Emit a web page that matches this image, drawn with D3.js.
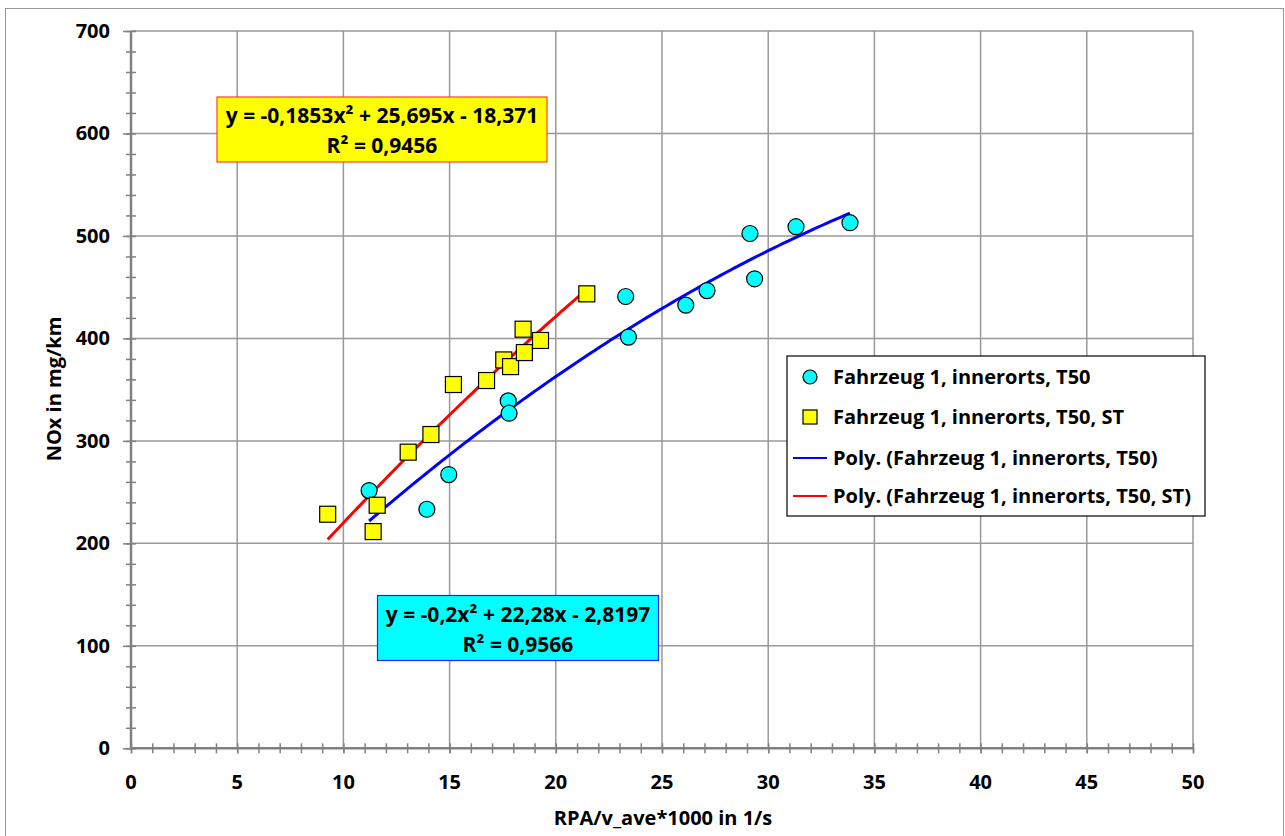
<!DOCTYPE html>
<html><head><meta charset="utf-8">
<script src="https://cdn.jsdelivr.net/npm/d3@7"></script>
<style>body{margin:0;background:#fff}svg{display:block}text{font-family:"Open Sans",Lato,sans-serif;font-weight:bold;fill:#000}</style>
</head><body><svg id="c" width="1285" height="836"></svg>
<script>
// Series 1: Fahrzeug 1, innerorts, T50 (circles)
const t50X = [11.21, 13.93, 14.96, 17.76, 17.80, 23.29, 23.42, 26.12, 27.12, 29.14, 29.36, 31.31, 33.85];
const t50Y = [251.5, 233.3, 267.1, 339.0, 327.0, 440.9, 401.3, 432.5, 446.7, 502.4, 458.2, 509.0, 512.9];
// Series 2: Fahrzeug 1, innerorts, T50, ST (squares)
const stX = [9.26, 11.40, 11.59, 13.05, 14.12, 15.18, 16.74, 17.55, 17.87, 18.46, 18.52, 19.28, 21.46];
const stY = [228.4, 211.5, 237.2, 289.0, 306.2, 355.0, 358.9, 379.0, 372.5, 409.0, 386.2, 398.0, 443.5];
// Trendline coefficients (as printed on the chart): y = a x^2 + b x + c
const t50Coef = [-0.2, 22.28, -2.8197];
const stCoef = [-0.1853, 25.695, -18.371];
const t50Label = ["y = -0,2x² + 22,28x - 2,8197", "R² = 0,9566"];
const stLabel = ["y = -0,1853x² + 25,695x - 18,371", "R² = 0,9456"];
const legendLabels = ["Fahrzeug 1, innerorts, T50", "Fahrzeug 1, innerorts, T50, ST", "Poly. (Fahrzeug 1, innerorts, T50)", "Poly. (Fahrzeug 1, innerorts, T50, ST)"];
const xTicks = [0,5,10,15,20,25,30,35,40,45,50];
const yTicks = [0,100,200,300,400,500,600,700];
const xTitle = "RPA/v_ave*1000 in 1/s";
const yTitle = "NOx in mg/km";

const svg = d3.select("#c");
const x = d3.scaleLinear().domain([0,50]).range([131,1193]);
const y = d3.scaleLinear().domain([0,700]).range([748.3,31]);
const grid = "#999", axisC = "#808080";
const FS = 20;

svg.append("rect").attr("x",5.5).attr("y",8.5).attr("width",1278).attr("height",840).attr("fill","#fff").attr("stroke","#999").attr("stroke-width",1);

// grid
svg.append("g").selectAll("line").data(xTicks.slice(1)).join("line")
  .attr("x1",d=>x(d)).attr("x2",d=>x(d)).attr("y1",y(700)).attr("y2",y(0)).attr("stroke",grid).attr("stroke-width",1.5);
svg.append("g").selectAll("line").data(yTicks.slice(1)).join("line")
  .attr("x1",x(0)).attr("x2",x(50)).attr("y1",d=>y(d)).attr("y2",d=>y(d)).attr("stroke",grid).attr("stroke-width",1.5);

// axes
const yAx = svg.append("g").attr("transform",`translate(${x(0)},0)`)
  .call(d3.axisLeft(y).tickValues(yTicks).tickSize(8).tickFormat(""));
const yMinor = svg.append("g").attr("transform",`translate(${x(0)+5},0)`)
  .call(d3.axisLeft(y).tickValues(d3.range(0,701,20)).tickSize(10).tickFormat(""));
const xAx = svg.append("g").attr("transform",`translate(0,${y(0)})`)
  .call(d3.axisBottom(x).tickValues(xTicks).tickSize(5).tickFormat(""));
const xMinor = svg.append("g").attr("transform",`translate(0,${y(0)-5})`)
  .call(d3.axisBottom(x).tickValues(d3.range(0,51,1)).tickSize(10).tickFormat(""));
[yAx,yMinor,xAx,xMinor].forEach(g=>{g.selectAll("line").attr("stroke",axisC).attr("stroke-width",1.5);g.select(".domain").remove();});
svg.append("line").attr("x1",x(0)).attr("x2",x(0)).attr("y1",y(700)).attr("y2",y(0)).attr("stroke",axisC).attr("stroke-width",2.5);
svg.append("line").attr("x1",x(0)).attr("x2",x(50)).attr("y1",y(0)).attr("y2",y(0)).attr("stroke",axisC).attr("stroke-width",2.5);

// tick labels
svg.append("g").selectAll("text").data(yTicks).join("text")
  .attr("x",110).attr("y",d=>y(d)).attr("dy","0.35em").attr("text-anchor","end").attr("font-size",FS).text(d=>d);
svg.append("g").selectAll("text").data(xTicks).join("text")
  .attr("x",d=>x(d)).attr("y",782).attr("dy","0.35em").attr("text-anchor","middle").attr("font-size",FS).text(d=>d);
svg.append("text").attr("x",663).attr("y",818).attr("dy","0.35em").attr("text-anchor","middle").attr("font-size",FS).text(xTitle);
svg.append("text").attr("transform","translate(54,389) rotate(-90)").attr("dy","0.35em").attr("text-anchor","middle").attr("font-size",FS).text(yTitle);

// trendlines
function poly(c){return v=>c[0]*v*v+c[1]*v+c[2];}
function curve(xs,c){const lo=d3.min(xs),hi=d3.max(xs),f=poly(c);return d3.range(0,101).map(i=>{const v=lo+(hi-lo)*i/100;return [v,f(v)];});}
const line = d3.line().x(d=>x(d[0])).y(d=>y(d[1]));
svg.append("path").attr("d",line(curve(t50X,t50Coef))).attr("fill","none").attr("stroke","#0000ff").attr("stroke-width",3);
svg.append("path").attr("d",line(curve(stX,stCoef))).attr("fill","none").attr("stroke","#ff0000").attr("stroke-width",3);

// markers
svg.append("g").selectAll("circle").data(t50X.map((v,i)=>[v,t50Y[i]])).join("circle")
  .attr("cx",d=>x(d[0])).attr("cy",d=>y(d[1])).attr("r",8).attr("fill","#00ffff").attr("stroke","#000").attr("stroke-width",1.2);
svg.append("g").selectAll("rect").data(stX.map((v,i)=>[v,stY[i]])).join("rect")
  .attr("x",d=>x(d[0])-8).attr("y",d=>y(d[1])-8).attr("width",16).attr("height",16).attr("fill","#ffff00").attr("stroke","#000").attr("stroke-width",1.2);

// equation boxes
function eqBox(x0,y0,w,h,fill,stroke,lines){
  svg.append("rect").attr("x",x0).attr("y",y0).attr("width",w).attr("height",h).attr("fill",fill).attr("stroke",stroke).attr("stroke-width",1.2);
  svg.append("g").selectAll("text").data(lines).join("text").attr("x",x0+w/2).attr("y",(d,i)=>y0+19+i*30).attr("dy","0.35em")
    .attr("text-anchor","middle").attr("font-size",21).text(d=>d);
}
eqBox(217,97,330,65,"#ffff00","#ff4020",stLabel);
eqBox(377.5,595.5,281,65,"#00ffff","#2020ff",t50Label);

// legend
const lg = svg.append("g");
lg.append("rect").attr("x",787).attr("y",356).attr("width",418).attr("height",160).attr("fill","#fff").attr("stroke","#000").attr("stroke-width",1.2);
const ly = [377,417,458,496];
lg.append("circle").attr("cx",810).attr("cy",ly[0]).attr("r",7).attr("fill","#00ffff").attr("stroke","#000").attr("stroke-width",1.2);
lg.append("rect").attr("x",803).attr("y",ly[1]-7).attr("width",14).attr("height",14).attr("fill","#ffff00").attr("stroke","#000").attr("stroke-width",1.2);
lg.append("line").attr("x1",793).attr("x2",827).attr("y1",ly[2]).attr("y2",ly[2]).attr("stroke","#0000ff").attr("stroke-width",2);
lg.append("line").attr("x1",793).attr("x2",827).attr("y1",ly[3]).attr("y2",ly[3]).attr("stroke","#ff0000").attr("stroke-width",2);
lg.selectAll("text.l").data(legendLabels).join("text").attr("x",833).attr("y",(d,i)=>ly[i]).attr("dy","0.35em").attr("font-size",FS).text(d=>d);
</script></body></html>
